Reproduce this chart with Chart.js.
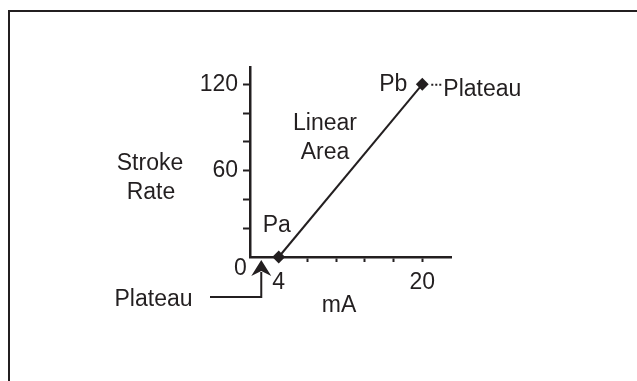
<!DOCTYPE html>
<html>
<head>
<meta charset="utf-8">
<script src="https://cdn.jsdelivr.net/npm/chart.js@4.4.1/dist/chart.umd.min.js"></script>
<style>
  html, body { margin: 0; padding: 0; background: #fff; }
  #wrap { position: relative; width: 637px; height: 381px; overflow: hidden; }
  #frame {
    position: absolute; left: 8px; top: 10px; right: -10px; bottom: -10px;
    border-top: 2px solid #231f20; border-left: 2px solid #231f20;
  }
  canvas { position: absolute; left: 0; top: 0; }
</style>
</head>
<body>
<div id="wrap">
  <div id="frame"></div>
  <canvas id="chartStroke" width="637" height="381"></canvas>
</div>
<script>
// signal in mA against stroke rate: Pa at 4 mA, Pb at 20 mA
const currentMA = [4, 20];
const strokeRate = [0, 120];

// axis ticks (x axis is drawn in steps of 3.2 mA starting at 0.8)
const xTicks = [4, 7.2, 10.4, 13.6, 16.8, 20];
const xTickLabels = ['4', '', '', '', '', '20'];
const yTicks = [20, 40, 60, 80, 100, 120];
const yTickLabels = ['', '', '60', '', '', '120'];

const INK = '#231f20';
const FONT_FAMILY = "'Liberation Sans', Arial, sans-serif";
const FONT_SIZE = 23;

function renderStrokeRate() {
    const ctx = document.getElementById('chartStroke').getContext('2d');

    const points = currentMA.map((v, i) => ({ x: v, y: strokeRate[i] }));

    const notes = {
        id: 'notes',
        afterDraw(chart) {
            const c = chart.ctx;
            const { x, y } = chart.scales;
            const area = chart.chartArea;
            const pa = { x: x.getPixelForValue(currentMA[0]), y: y.getPixelForValue(strokeRate[0]) };
            const pb = { x: x.getPixelForValue(currentMA[1]), y: y.getPixelForValue(strokeRate[1]) };

            c.save();
            c.fillStyle = INK;
            c.strokeStyle = INK;
            c.font = FONT_SIZE + 'px ' + FONT_FAMILY;
            c.textBaseline = 'alphabetic';
            c.textAlign = 'center';

            // axis captions
            c.fillText('Stroke', area.left - 100, 170);
            c.fillText('Rate', area.left - 99, 199);
            c.fillText('mA', 339, area.bottom + 55);
            c.fillText('0', area.left - 9.5, area.bottom + 18);

            // region labels
            c.fillText('Linear', 325, 130);
            c.fillText('Area', 325, 158.5);
            c.fillText('Pa', pa.x - 2, pa.y - 25);
            c.fillText('Pb', pb.x - 29, pb.y + 7);

            // upper plateau, dotted leader from Pb
            c.textAlign = 'left';
            c.fillText('Plateau', pb.x + 21, pb.y + 12);
            c.lineWidth = 2;
            c.setLineDash([2, 2]);
            c.beginPath();
            c.moveTo(pb.x + 9, pb.y + 0.5);
            c.lineTo(pb.x + 19, pb.y + 0.5);
            c.stroke();
            c.setLineDash([]);

            // lower plateau, elbow arrow pointing at the origin
            c.textAlign = 'center';
            c.fillText('Plateau', 153.5, area.bottom + 49);
            const ax = x.getPixelForValue(2) + 0.5;
            const tip = area.bottom + 3;
            c.beginPath();
            c.moveTo(210, area.bottom + 40);
            c.lineTo(ax, area.bottom + 40);
            c.lineTo(ax, tip + 12);
            c.stroke();
            c.beginPath();
            c.moveTo(ax, tip);
            c.lineTo(ax + 10, tip + 16);
            c.lineTo(ax, tip + 11);
            c.lineTo(ax - 10, tip + 16);
            c.closePath();
            c.fill();

            c.restore();
        }
    };

    new Chart(ctx, {
        type: 'scatter',
        data: {
            datasets: [{
                data: points,
                showLine: true,
                borderColor: INK,
                borderWidth: 2,
                pointStyle: 'rectRot',
                pointRadius: 5,
                pointBackgroundColor: INK,
                pointBorderColor: INK,
                clip: false,
            }]
        },
        options: {
            responsive: false,
            animation: false,
            events: [],
            layout: { padding: { left: 200, right: 186, top: 67, bottom: 84 } },
            plugins: {
                legend: { display: false },
                tooltip: { enabled: false }
            },
            scales: {
                x: {
                    type: 'linear',
                    min: 0.8,
                    max: 23.2,
                    afterBuildTicks: (scale) => { scale.ticks = xTicks.map(v => ({ value: v })); },
                    afterFit: (scale) => { scale.height = 40; },
                    grid: { drawOnChartArea: false, tickLength: 5, tickWidth: 2, tickColor: INK },
                    border: { color: INK, width: 2.5 },
                    ticks: {
                        autoSkip: false,
                        maxRotation: 0,
                        padding: 7,
                        color: INK,
                        font: { family: FONT_FAMILY, size: FONT_SIZE },
                        callback: (value, index) => xTickLabels[index]
                    }
                },
                y: {
                    min: 0,
                    max: 132,
                    afterBuildTicks: (scale) => { scale.ticks = yTicks.map(v => ({ value: v })); },
                    afterFit: (scale) => { scale.width = 50; },
                    grid: { drawOnChartArea: false, tickLength: 7, tickWidth: 2, tickColor: INK },
                    border: { color: INK, width: 2.5 },
                    ticks: {
                        autoSkip: false,
                        padding: 5,
                        color: INK,
                        font: { family: FONT_FAMILY, size: FONT_SIZE },
                        callback: (value, index) => yTickLabels[index]
                    }
                }
            }
        },
        plugins: [notes]
    });
}

renderStrokeRate();
</script>
</body>
</html>
